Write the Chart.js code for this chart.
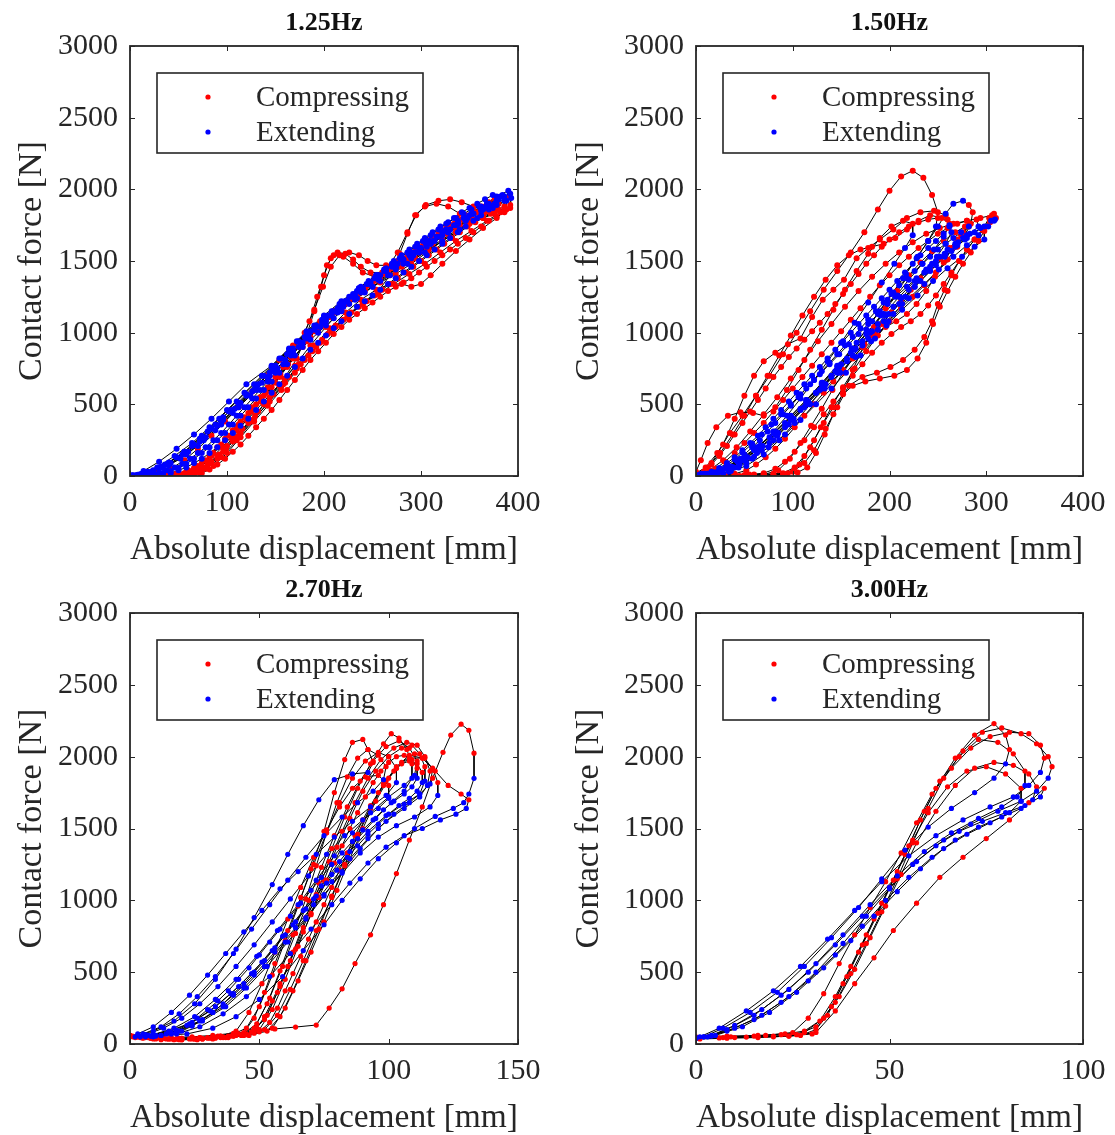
<!DOCTYPE html>
<html>
<head>
<meta charset="utf-8">
<title>Contact force vs absolute displacement</title>
<script src="https://cdn.jsdelivr.net/npm/chart.js@4.4.1/dist/chart.umd.min.js"></script>
<style>
  body { margin: 0; background: #fff; }
  #grid { position: relative; width: 1115px; height: 1135px; }
  .cell { position: absolute; }
</style>
</head>
<body>
<div id="grid">
  <div class="cell" style="left:0;top:0"><canvas id="c0" width="557" height="567"></canvas></div>
  <div class="cell" style="left:557px;top:0"><canvas id="c1" width="558" height="567"></canvas></div>
  <div class="cell" style="left:0;top:567px"><canvas id="c2" width="557" height="568"></canvas></div>
  <div class="cell" style="left:557px;top:567px"><canvas id="c3" width="558" height="568"></canvas></div>
</div>
<script>
// panel settings
const freqLabels = ["1.25Hz", "1.50Hz", "2.70Hz", "3.00Hz"];
const xMaxes = [400, 400, 150, 100];
const xSteps = [100, 100, 50, 50];
const yMax = 3000, yStep = 500;
const seriesNames = ["Compressing", "Extending"];

// ---- 1.25Hz : [displacement mm, force N], one array per cycle ----
const compress125 = [
  [[0,0],[15,0],[30,5],[45,10],[60,25],[75,60],[90,140],[105,260],[120,390],[135,520],[150,650],[163,780],[175,920],[185,1080],[193,1250],[200,1400],[207,1520],[214,1560],[222,1550],[230,1510],[238,1460],[248,1420],[260,1420],[272,1450],[285,1500],[298,1560],[312,1620],[326,1690],[340,1750],[352,1800]],
  [[2,0],[18,0],[34,5],[50,15],[65,40],[80,100],[95,200],[110,320],[125,450],[140,580],[155,710],[168,850],[180,1000],[190,1160],[199,1320],[207,1460],[216,1540],[226,1560],[236,1540],[245,1500],[254,1470],[264,1470],[276,1500],[290,1550],[305,1610],[320,1670],[336,1730],[352,1790],[366,1840],[378,1880]],
  [[0,0],[20,0],[40,5],[58,15],[74,45],[90,120],[106,240],[122,370],[138,500],[154,630],[170,770],[186,910],[202,1040],[218,1160],[234,1260],[250,1350],[264,1440],[276,1560],[286,1700],[295,1820],[305,1890],[318,1920],[330,1930],[342,1910],[354,1880],[366,1880],[378,1900],[388,1940]],
  [[5,0],[25,0],[45,5],[62,15],[78,50],[94,130],[110,250],[126,380],[142,510],[158,640],[174,780],[190,910],[206,1030],[222,1140],[238,1230],[254,1300],[268,1340],[280,1340],[290,1320],[300,1340],[310,1400],[322,1480],[336,1570],[350,1650],[364,1730],[378,1800],[388,1860]],
  [[0,0],[20,0],[40,0],[58,5],[72,20],[86,70],[100,160],[114,270],[128,380],[142,490],[156,600],[170,720],[184,840],[198,950],[212,1050],[226,1130],[240,1200],[256,1270],[272,1340],[288,1410],[304,1480],[320,1560],[336,1640],[352,1710],[368,1780],[382,1840],[392,1890]],
  [[3,0],[20,0],[37,5],[54,10],[69,30],[84,90],[99,190],[114,300],[129,420],[144,550],[159,680],[172,820],[182,980],[190,1150],[197,1320],[203,1470],[210,1540],[220,1530],[230,1480],[240,1420],[252,1390],[266,1410],[280,1460],[294,1520],[308,1580],[322,1640],[336,1700],[350,1760],[364,1810],[376,1850]],
  [[0,0],[16,0],[32,5],[48,10],[64,25],[80,75],[96,170],[112,280],[128,400],[144,520],[160,650],[176,780],[192,900],[208,1010],[224,1110],[240,1200],[256,1290],[268,1400],[278,1550],[286,1690],[294,1820],[304,1880],[316,1900],[328,1880],[340,1830],[352,1800],[364,1800],[376,1830],[386,1870]],
  [[0,0],[14,5],[28,20],[42,50],[56,110],[70,190],[84,280],[98,380],[112,480],[126,590],[140,700],[154,810],[168,910],[182,1000],[196,1080],[210,1150],[226,1230],[242,1300],[258,1370],[274,1440],[290,1510],[306,1580],[322,1650],[338,1720],[354,1790],[368,1850],[380,1900]],
  [[4,0],[22,0],[40,5],[56,20],[70,60],[84,140],[98,250],[112,360],[126,470],[140,580],[154,700],[168,820],[182,940],[196,1050],[210,1140],[226,1220],[242,1290],[258,1350],[274,1410],[290,1480],[306,1560],[322,1640],[336,1700]],
  [[0,0],[10,0],[20,0],[30,0],[40,5],[50,10],[60,20],[68,35],[76,60],[84,100],[92,150],[100,210],[108,270],[116,330],[124,390],[132,450],[140,510],[148,570],[156,630],[164,690],[172,750],[180,810],[188,870],[196,930],[204,990],[212,1040],[220,1090],[228,1140],[236,1180],[244,1220],[252,1260],[260,1300],[268,1340],[276,1380],[284,1420],[292,1460],[300,1500],[308,1540],[316,1580],[324,1620],[332,1660],[340,1700],[348,1740],[356,1770],[364,1800],[372,1830],[380,1860],[386,1880]],
  [[0,0],[12,0],[24,0],[36,5],[48,15],[58,30],[66,55],[74,90],[82,140],[90,200],[98,260],[106,320],[114,380],[122,440],[130,500],[138,560],[146,620],[154,690],[162,760],[170,830],[178,900],[186,970],[194,1030],[202,1090],[210,1140],[218,1190],[226,1230],[234,1270],[242,1310],[250,1350],[258,1390],[266,1430],[274,1470],[282,1510],[290,1550],[298,1590],[306,1630],[314,1670],[322,1710],[330,1750],[338,1790],[346,1820],[354,1850],[362,1880],[370,1910],[376,1930]],
  [[5,0],[18,0],[31,0],[44,0],[56,5],[66,10],[74,20],[82,45],[90,80],[98,120],[106,170],[114,220],[122,280],[130,340],[138,400],[146,460],[154,530],[162,600],[170,670],[178,740],[186,810],[194,870],[202,930],[210,990],[218,1040],[226,1090],[234,1130],[242,1170],[250,1210],[258,1250],[266,1290],[274,1320],[282,1350],[290,1380],[298,1420],[306,1460],[314,1500],[322,1540],[330,1580],[338,1620],[346,1660],[354,1700],[362,1740],[370,1780],[378,1810],[386,1840],[392,1870]],
  [[2,0],[14,0],[26,5],[38,10],[50,20],[60,40],[70,70],[78,110],[86,160],[94,220],[102,280],[110,340],[118,410],[126,480],[134,550],[142,620],[150,690],[158,760],[166,830],[174,900],[182,960],[190,1010],[198,1060],[206,1110],[214,1160],[222,1200],[230,1240],[238,1280],[246,1330],[254,1370],[262,1410],[270,1450],[278,1490],[286,1530],[294,1570],[302,1610],[310,1650],[318,1690],[326,1730],[334,1760],[342,1790],[350,1820],[358,1840],[366,1860]]
];
const extend125 = [
  [[350,1820],[338,1780],[322,1700],[305,1620],[288,1540],[270,1460],[252,1380],[234,1290],[216,1200],[198,1090],[180,970],[162,850],[144,720],[126,590],[108,470],[90,350],[72,240],[54,150],[36,80],[18,30],[3,5]],
  [[378,1920],[365,1870],[348,1800],[330,1720],[312,1640],[294,1560],[276,1480],[258,1400],[240,1310],[222,1220],[204,1120],[186,1010],[168,890],[150,770],[132,640],[114,510],[96,390],[78,270],[60,170],[42,90],[24,35],[8,5]],
  [[390,1990],[378,1950],[362,1880],[344,1800],[326,1720],[308,1640],[290,1560],[272,1480],[254,1400],[236,1310],[218,1220],[200,1120],[182,1010],[164,890],[146,770],[120,640],[102,520],[84,400],[66,290],[48,190],[30,100],[14,35],[2,5]],
  [[388,1920],[374,1870],[358,1800],[340,1720],[322,1640],[304,1560],[286,1480],[268,1400],[250,1320],[232,1230],[214,1140],[196,1040],[178,930],[160,810],[142,690],[124,560],[106,440],[88,320],[70,210],[52,120],[34,55],[16,15]],
  [[392,1970],[380,1930],[364,1860],[346,1780],[328,1700],[310,1620],[292,1540],[274,1460],[256,1380],[238,1290],[220,1200],[202,1100],[184,990],[166,870],[148,750],[130,620],[112,490],[94,370],[76,260],[58,160],[40,80],[22,30],[6,5]],
  [[376,1900],[362,1850],[346,1780],[328,1700],[310,1620],[292,1540],[274,1460],[256,1370],[238,1280],[220,1180],[202,1080],[184,970],[166,850],[148,730],[130,600],[112,480],[94,360],[76,250],[58,150],[40,75],[22,25],[6,0]],
  [[384,1960],[370,1900],[354,1830],[336,1750],[318,1670],[300,1590],[282,1510],[264,1430],[246,1340],[228,1250],[210,1150],[192,1050],[174,940],[156,820],[138,700],[120,570],[102,450],[84,330],[66,220],[48,130],[30,60],[12,15]],
  [[382,1950],[368,1900],[352,1830],[334,1750],[316,1670],[298,1590],[280,1510],[262,1430],[244,1340],[226,1250],[208,1150],[190,1050],[172,940],[154,820],[136,700],[118,580],[100,460],[82,340],[64,230],[46,140],[28,60],[10,10]],
  [[338,1760],[324,1710],[308,1640],[290,1560],[272,1480],[254,1400],[236,1310],[218,1210],[200,1110],[182,1000],[164,880],[146,760],[128,640],[110,520],[92,400],[74,280],[56,170],[38,80],[20,25],[4,0]],
  [[386,1950],[378,1920],[370,1890],[362,1860],[354,1830],[346,1800],[338,1760],[330,1720],[322,1680],[314,1640],[306,1600],[298,1560],[290,1520],[282,1480],[274,1440],[266,1400],[258,1360],[250,1320],[242,1280],[234,1240],[226,1200],[218,1150],[210,1100],[202,1050],[194,1000],[186,950],[178,900],[170,840],[162,780],[154,720],[146,660],[138,600],[130,540],[122,480],[114,420],[106,360],[98,300],[90,250],[82,200],[74,160],[66,120],[58,85],[50,55],[42,35],[34,20],[26,10],[18,5],[10,0],[2,0]],
  [[374,1960],[366,1930],[358,1900],[350,1870],[342,1840],[334,1800],[326,1760],[318,1720],[310,1680],[302,1640],[294,1600],[286,1560],[278,1520],[270,1480],[262,1440],[254,1400],[246,1360],[238,1320],[230,1270],[222,1220],[214,1170],[206,1120],[198,1070],[190,1020],[182,960],[174,900],[166,840],[158,780],[150,720],[142,660],[134,600],[126,540],[118,480],[110,420],[102,360],[94,300],[86,250],[78,200],[70,160],[62,120],[54,85],[46,60],[38,40],[30,25],[22,12],[14,5],[6,0]],
  [[393,1940],[386,1920],[378,1890],[370,1860],[362,1820],[354,1780],[346,1740],[338,1700],[330,1660],[322,1620],[314,1580],[306,1540],[298,1500],[290,1460],[282,1420],[274,1380],[266,1340],[258,1300],[250,1260],[242,1220],[234,1180],[226,1130],[218,1080],[210,1030],[202,980],[194,930],[186,880],[178,820],[170,760],[162,700],[154,640],[146,580],[138,520],[130,460],[122,400],[114,350],[106,300],[98,250],[90,200],[82,160],[74,120],[66,90],[58,60],[50,40],[42,20],[34,10],[26,5],[18,0],[10,0]],
  [[368,1900],[360,1880],[352,1860],[344,1830],[336,1800],[328,1770],[320,1740],[312,1700],[304,1660],[296,1620],[288,1580],[280,1540],[272,1500],[264,1450],[256,1400],[248,1350],[240,1300],[232,1260],[224,1220],[216,1180],[208,1130],[200,1080],[192,1040],[184,990],[176,930],[168,870],[160,810],[152,750],[144,700],[136,650],[128,600],[120,560],[112,510],[104,460],[96,410],[88,360],[80,310],[72,260],[64,210],[56,170],[48,130],[40,95],[32,65],[24,40],[16,20],[8,8],[0,0]]
];

// ---- 1.50Hz ----
const compress150 = [
  [[0,20],[10,60],[22,160],[35,300],[48,420],[62,560],[76,700],[90,850],[104,1000],[118,1150],[132,1300],[146,1430],[160,1560],[174,1700],[188,1860],[200,1990],[212,2090],[224,2130],[235,2080],[244,1960],[250,1840]],
  [[0,30],[5,110],[12,230],[21,340],[33,420],[46,445],[59,440],[70,420],[82,480],[94,600],[106,740],[118,880],[130,1020],[142,1160],[154,1300],[166,1430],[178,1550],[190,1660],[202,1740],[214,1780],[224,1760]],
  [[20,0],[40,5],[60,10],[80,15],[100,30],[112,90],[122,180],[134,330],[146,480],[158,630],[172,690],[187,720],[201,760],[214,810],[226,880],[236,970],[244,1080],[250,1200],[257,1300],[264,1400],[272,1500],[280,1580],[288,1650],[296,1720],[303,1800],[308,1830]],
  [[5,10],[16,90],[28,220],[40,400],[50,560],[60,700],[70,800],[82,860],[95,920],[108,960],[120,1110],[131,1230],[142,1300],[153,1370],[166,1520],[178,1590],[190,1650],[204,1720],[218,1800],[232,1840],[246,1850],[258,1820]],
  [[30,0],[50,5],[70,10],[85,40],[97,120],[108,230],[119,350],[130,470],[141,600],[152,720],[163,830],[174,920],[185,990],[196,1040],[207,1080],[218,1130],[228,1200],[238,1290],[247,1390],[256,1490],[265,1590],[274,1680],[282,1740],[290,1790]],
  [[10,0],[30,0],[50,5],[70,5],[90,10],[105,25],[115,60],[124,160],[133,290],[142,430],[152,580],[162,740],[173,900],[184,1040],[196,1170],[208,1290],[220,1400],[232,1490],[244,1570],[256,1640],[268,1700],[278,1740]],
  [[0,10],[12,60],[25,160],[38,290],[50,420],[62,560],[74,700],[86,840],[98,980],[110,1120],[122,1250],[134,1370],[146,1470],[158,1540],[170,1580],[182,1600],[194,1620],[206,1660],[218,1720],[230,1780],[242,1820],[254,1800],[262,1760]],
  [[40,0],[60,0],[80,5],[95,20],[107,80],[118,200],[129,340],[140,480],[152,620],[164,750],[176,870],[188,980],[200,1080],[212,1170],[224,1250],[236,1330],[248,1420],[260,1510],[270,1600],[278,1680],[284,1760],[286,1840],[282,1890]],
  [[0,15],[14,40],[28,110],[42,200],[56,310],[70,430],[84,550],[98,680],[112,810],[126,940],[140,1060],[154,1180],[168,1290],[182,1390],[196,1480],[210,1560],[224,1630],[238,1690],[252,1730],[266,1760],[280,1780],[294,1800],[306,1820]],
  [[20,0],[45,0],[70,5],[90,20],[102,60],[112,140],[122,250],[132,370],[142,480],[152,570],[162,630],[175,660],[190,680],[205,700],[218,740],[229,820],[238,930],[245,1060],[252,1180],[260,1290],[268,1390],[276,1480],[284,1560],[292,1640],[298,1710]],
  [[0,5],[10,20],[20,50],[30,100],[40,160],[50,230],[60,300],[70,370],[80,450],[90,530],[100,610],[110,690],[120,770],[130,850],[140,930],[150,1010],[160,1090],[170,1170],[180,1250],[190,1330],[200,1400],[210,1470],[220,1530],[230,1590],[240,1640],[250,1690],[260,1730],[270,1760],[280,1780]],
  [[10,0],[25,0],[40,5],[55,10],[70,20],[82,50],[92,100],[102,170],[112,250],[122,340],[132,430],[142,520],[152,610],[162,700],[172,780],[182,860],[192,930],[202,990],[212,1040],[222,1080],[232,1130],[240,1190],[248,1260],[256,1340],[264,1420],[272,1500],[280,1580],[288,1650],[296,1720],[304,1770],[310,1800]],
  [[0,0],[8,30],[16,80],[24,140],[32,210],[40,290],[48,370],[56,450],[64,530],[72,610],[80,690],[88,760],[96,830],[104,890],[112,950],[120,1010],[128,1070],[136,1130],[144,1200],[152,1270],[160,1340],[168,1410],[176,1480],[184,1540],[192,1600],[200,1650],[210,1700],[220,1740],[230,1770],[240,1790],[250,1800],[260,1790]],
  [[15,0],[28,5],[40,15],[52,40],[62,80],[72,130],[82,190],[92,260],[102,340],[112,420],[122,500],[132,580],[142,660],[152,740],[162,820],[172,900],[182,980],[192,1060],[202,1140],[212,1220],[222,1300],[232,1380],[242,1450],[252,1520],[262,1590],[270,1650],[276,1700]]
];
const extend150 = [
  [[248,1740],[240,1640],[228,1520],[214,1380],[198,1230],[182,1080],[166,930],[150,780],[134,640],[118,500],[102,370],[86,250],[70,150],[52,70],[34,30],[16,15]],
  [[224,1680],[216,1590],[205,1480],[192,1350],[178,1210],[164,1070],[150,930],[136,800],[122,670],[108,540],[94,420],[80,310],[66,210],[51,120],[36,60],[20,25],[6,15]],
  [[305,1780],[294,1730],[280,1660],[264,1570],[248,1470],[232,1360],[216,1250],[199,1130],[182,1010],[165,890],[148,770],[131,650],[114,530],[97,410],[80,300],[63,200],[46,120],[30,55],[14,15]],
  [[262,1750],[256,1670],[246,1580],[234,1480],[220,1370],[206,1250],[191,1120],[176,990],[160,860],[144,730],[128,600],[112,480],[96,360],[80,250],[63,160],[45,80],[27,30],[10,10]],
  [[292,1740],[283,1690],[271,1630],[257,1550],[242,1460],[226,1360],[210,1250],[194,1130],[178,1010],[162,890],[146,770],[130,650],[114,530],[98,420],[82,310],[66,210],[50,130],[34,65],[18,25],[4,10]],
  [[280,1680],[270,1610],[257,1530],[242,1430],[226,1320],[210,1200],[194,1080],[178,960],[162,840],[146,720],[130,610],[114,500],[98,390],[82,290],[66,200],[50,120],[34,55],[16,15]],
  [[264,1700],[258,1620],[249,1530],[238,1430],[226,1320],[213,1200],[199,1080],[185,960],[170,840],[155,720],[140,610],[124,500],[108,390],[92,290],[75,200],[58,120],[40,60],[22,20]],
  [[276,1920],[266,1900],[258,1830],[250,1740],[240,1640],[229,1530],[217,1410],[204,1280],[190,1150],[176,1020],[161,890],[146,760],[130,640],[114,520],[98,400],[82,290],[65,190],[48,110],[30,50],[12,15]],
  [[309,1790],[302,1740],[292,1680],[280,1610],[266,1530],[251,1440],[236,1340],[220,1240],[204,1130],[188,1020],[172,910],[156,800],[140,690],[124,580],[108,470],[92,370],[76,270],[60,180],[43,100],[26,45],[9,15]],
  [[298,1650],[288,1600],[275,1530],[260,1450],[245,1360],[229,1260],[213,1160],[197,1050],[181,940],[165,830],[149,720],[133,610],[117,500],[101,400],[85,300],[69,210],[53,130],[37,65],[21,25],[6,10]],
  [[282,1740],[274,1700],[266,1660],[258,1620],[250,1580],[242,1530],[234,1480],[226,1430],[218,1380],[210,1330],[202,1270],[194,1210],[186,1150],[178,1090],[170,1030],[162,970],[154,910],[146,850],[138,790],[130,730],[122,670],[114,610],[106,550],[98,490],[90,430],[82,370],[74,310],[66,250],[58,200],[50,150],[42,110],[34,70],[26,40],[18,20],[10,10],[2,5]],
  [[308,1780],[298,1740],[288,1700],[278,1650],[268,1600],[258,1550],[248,1500],[238,1440],[228,1380],[218,1320],[208,1260],[198,1200],[188,1130],[178,1060],[168,990],[158,920],[148,850],[138,780],[128,710],[118,640],[108,570],[98,500],[88,430],[78,360],[68,290],[58,225],[48,165],[40,115],[32,75],[24,40],[16,20],[8,8]],
  [[262,1740],[256,1690],[248,1640],[240,1590],[232,1540],[224,1480],[216,1420],[208,1360],[200,1300],[192,1240],[184,1180],[176,1120],[168,1060],[160,1000],[152,940],[144,880],[136,820],[128,760],[120,700],[112,640],[104,580],[96,520],[88,460],[80,400],[72,340],[64,280],[56,230],[48,180],[40,130],[32,90],[24,55],[16,30],[8,10]],
  [[276,1660],[268,1620],[260,1580],[252,1530],[244,1480],[236,1420],[228,1360],[220,1300],[212,1240],[204,1180],[196,1120],[188,1060],[180,1000],[172,940],[164,880],[156,820],[148,760],[140,700],[132,640],[124,580],[116,520],[108,460],[100,400],[92,340],[84,280],[76,230],[68,180],[60,135],[52,95],[44,60],[36,35],[28,15],[20,5]]
];

// ---- 2.70Hz ----
const compress270 = [
  [[0,60],[6,45],[13,40],[20,40],[27,45],[34,55],[40,70],[45,110],[50,260],[55,480],[60,720],[65,960],[70,1220],[75,1480],[79,1750],[83,1980],[86,2100],[90,2120],[92,2050],[94,1960]],
  [[2,50],[9,35],[17,30],[25,35],[33,45],[41,60],[48,90],[53,200],[58,400],[63,640],[68,880],[73,1120],[78,1360],[83,1580],[88,1780],[93,1950],[98,2090],[101,2160],[104,2130],[107,2050],[109,1950]],
  [[0,60],[8,50],[16,45],[24,50],[32,60],[40,75],[48,90],[56,105],[64,118],[72,132],[77,250],[82,384],[87,560],[93,760],[98,970],[103,1186],[108,1420],[113,1650],[117,1850],[121,2030],[124,2150],[128,2226],[131,2184],[133,2024]],
  [[5,40],[12,30],[20,30],[28,35],[36,45],[43,60],[50,100],[55,240],[60,450],[65,680],[70,910],[75,1140],[80,1370],[85,1570],[90,1760],[95,1900],[100,2000],[105,2060],[109,2080],[112,2020],[114,1930]],
  [[3,50],[10,40],[18,35],[26,35],[33,40],[39,55],[44,80],[48,180],[52,360],[56,560],[61,790],[66,1020],[71,1250],[76,1470],[81,1680],[86,1850],[91,1970],[96,2030],[100,2000],[103,1920]],
  [[1,55],[9,40],[18,35],[27,40],[36,50],[45,65],[52,100],[57,200],[62,380],[67,580],[72,790],[78,1020],[83,1240],[88,1450],[93,1640],[98,1800],[103,1920],[108,1990],[113,1990],[117,1920],[119,1820]],
  [[2,45],[10,35],[19,30],[28,35],[37,45],[46,60],[53,90],[58,190],[63,370],[68,580],[73,800],[78,1030],[83,1250],[88,1460],[93,1650],[98,1810],[103,1930],[108,2010],[113,1990],[118,1900],[123,1800],[128,1740],[131,1700]],
  [[0,55],[7,45],[15,35],[23,35],[31,40],[38,55],[44,75],[49,140],[54,320],[59,540],[64,770],[69,1000],[74,1230],[79,1450],[84,1650],[89,1830],[94,1970],[99,2070],[104,2110],[108,2060],[111,1970]],
  [[4,45],[12,35],[20,35],[28,40],[35,55],[41,90],[46,220],[51,420],[56,640],[61,870],[66,1090],[71,1300],[76,1490],[81,1650],[86,1780],[91,1860],[96,1870],[100,1800]],
  [[1,50],[8,40],[16,35],[24,35],[32,45],[40,60],[47,85],[52,170],[57,360],[62,580],[67,810],[72,1040],[77,1270],[82,1480],[87,1680],[92,1850],[97,1980],[102,2060],[107,2100],[111,2080],[114,2000],[116,1900]],
  [[3,55],[11,45],[19,40],[27,45],[35,55],[42,70],[48,110],[53,280],[58,510],[63,760],[68,1010],[72,1240],[76,1470],[80,1680],[84,1860],[88,1990],[92,2050],[96,2010],[99,1930]],
  [[0,60],[10,45],[20,40],[30,45],[40,55],[48,75],[55,110],[60,250],[65,440],[70,640],[75,850],[80,1070],[85,1290],[90,1500],[95,1690],[100,1850],[105,1960],[110,2020],[114,1990],[117,1910]],
  [[0,55],[5,45],[10,40],[15,35],[20,35],[25,35],[30,40],[35,45],[40,55],[45,70],[49,110],[52,190],[55,300],[58,420],[61,540],[64,660],[67,780],[70,900],[73,1020],[76,1140],[79,1260],[82,1380],[85,1500],[88,1610],[91,1720],[94,1820],[97,1900],[100,1960],[103,2000],[106,2010],[109,1980],[111,1920]],
  [[3,50],[8,40],[14,35],[20,30],[26,30],[32,35],[38,45],[44,60],[50,85],[54,150],[57,250],[60,370],[63,490],[66,610],[69,730],[72,850],[75,970],[78,1090],[81,1210],[84,1330],[87,1450],[90,1560],[93,1660],[96,1750],[99,1830],[102,1900],[105,1950],[108,1970],[111,1950],[113,1890]]
];
const extend270 = [
  [[92,1890],[86,1880],[79,1840],[73,1700],[67,1520],[61,1320],[55,1110],[48,880],[41,660],[33,450],[25,280],[17,160],[9,90],[3,60]],
  [[109,1850],[106,1760],[101,1680],[95,1570],[88,1430],[81,1270],[74,1100],[67,930],[59,750],[51,570],[42,400],[33,260],[24,150],[15,90],[7,60]],
  [[133,1849],[131,1740],[129,1680],[125,1640],[118,1584],[110,1500],[103,1400],[96,1290],[89,1150],[82,1000],[75,830],[67,650],[59,470],[50,310],[41,190],[32,110],[22,70],[12,60]],
  [[114,1830],[112,1740],[108,1680],[102,1600],[96,1500],[89,1360],[82,1200],[75,1030],[68,870],[61,710],[53,540],[45,390],[37,260],[28,160],[19,90],[10,60]],
  [[103,1820],[99,1730],[93,1650],[86,1550],[79,1440],[72,1320],[65,1200],[58,1080],[51,930],[44,780],[37,630],[30,480],[23,340],[16,220],[9,120],[3,70]],
  [[119,1730],[116,1650],[110,1580],[103,1520],[96,1440],[89,1330],[82,1190],[75,1040],[68,880],[60,710],[52,540],[44,390],[36,260],[27,160],[18,90],[9,55]],
  [[130,1640],[126,1600],[120,1560],[113,1500],[106,1450],[99,1370],[92,1260],[85,1120],[78,970],[70,800],[62,630],[54,470],[45,330],[36,210],[27,120],[18,70],[9,50]],
  [[110,1870],[106,1800],[100,1720],[93,1610],[86,1470],[79,1310],[72,1140],[65,970],[57,790],[49,610],[41,450],[33,310],[25,190],[17,110],[9,65]],
  [[100,1710],[96,1640],[90,1560],[83,1450],[76,1320],[69,1170],[62,1010],[55,850],[48,690],[41,540],[34,400],[27,280],[20,180],[13,110],[6,65]],
  [[115,1800],[112,1720],[106,1640],[99,1550],[92,1430],[85,1290],[78,1130],[71,970],[64,810],[56,640],[48,480],[40,340],[32,220],[24,130],[16,80],[8,55]],
  [[98,1840],[94,1760],[88,1680],[82,1580],[75,1450],[68,1300],[61,1140],[54,970],[47,800],[40,630],[33,470],[26,330],[19,210],[12,120],[5,70]],
  [[116,1810],[112,1740],[106,1670],[99,1590],[92,1480],[85,1340],[78,1180],[71,1010],[63,830],[55,650],[47,490],[39,350],[31,230],[23,140],[15,85],[7,60]],
  [[111,1850],[109,1790],[106,1740],[102,1690],[98,1630],[94,1560],[90,1490],[86,1410],[82,1330],[78,1250],[74,1160],[70,1070],[66,980],[62,890],[58,800],[54,710],[50,620],[46,530],[42,450],[38,370],[34,300],[30,240],[26,180],[22,130],[18,95],[14,70],[10,55],[6,50],[2,50]],
  [[113,1820],[111,1760],[108,1710],[104,1660],[100,1600],[96,1530],[92,1460],[88,1380],[84,1300],[80,1210],[76,1120],[72,1030],[68,940],[64,850],[60,760],[56,670],[52,580],[48,500],[44,420],[40,350],[36,280],[32,220],[28,170],[24,125],[20,90],[16,70],[12,60],[8,55],[4,50]]
];

// ---- 3.00Hz ----
const compress300 = [
  [[0,40],[6,42],[13,48],[20,55],[26,65],[31,120],[36,290],[40,490],[44,700],[48,920],[52,1150],[56,1400],[60,1640],[64,1850],[69,2040],[74,2170],[79,2200],[84,2160],[88,2090],[91,2000],[92,1930]],
  [[1,35],[8,40],[16,45],[24,55],[30,70],[34,200],[38,420],[42,640],[46,870],[50,1090],[54,1320],[58,1560],[62,1780],[67,1990],[72,2150],[77,2230],[80,2150],[81,2050]],
  [[0,45],[9,50],[18,60],[25,80],[29,180],[33,350],[37,560],[41,760],[45,950],[49,1130],[53,1330],[57,1540],[61,1740],[66,1920],[71,2060],[76,2140],[81,2170],[86,2160],[89,2080],[90,1990]],
  [[0,40],[10,45],[20,50],[27,60],[31,100],[35,260],[39,470],[43,690],[47,910],[51,1140],[55,1380],[59,1620],[63,1830],[68,2000],[73,2120],[78,2100],[82,2020],[85,1900]],
  [[0,50],[8,55],[16,60],[23,70],[28,90],[33,180],[37,330],[41,520],[45,740],[49,960],[53,1180],[57,1400],[62,1620],[67,1800],[72,1920],[77,1960],[82,1940],[86,1880],[88,1790]],
  [[0,40],[7,45],[15,55],[22,65],[28,80],[32,160],[36,330],[40,540],[44,760],[48,980],[52,1200],[56,1420],[60,1610],[65,1790],[70,1900],[75,1930],[80,1880],[84,1780]],
  [[0,45],[8,45],[16,50],[24,55],[31,80],[36,230],[41,420],[46,600],[51,790],[57,980],[63,1160],[69,1300],[75,1430],[81,1560],[86,1680],[90,1780]]
];
const extend300 = [
  [[91,1850],[88,1760],[84,1690],[78,1620],[71,1530],[64,1420],[57,1270],[50,1090],[43,890],[36,690],[29,500],[22,340],[15,200],[8,100],[3,50],[0,40]],
  [[80,1950],[77,1850],[72,1750],[66,1640],[60,1510],[54,1350],[48,1150],[42,950],[35,740],[28,540],[21,360],[14,220],[7,110],[2,50]],
  [[89,1890],[86,1800],[82,1720],[76,1650],[69,1560],[62,1450],[55,1310],[48,1130],[41,930],[34,730],[27,540],[20,370],[13,230],[6,110],[1,50]],
  [[85,1800],[83,1720],[79,1650],[73,1570],[66,1470],[59,1340],[52,1170],[45,970],[38,760],[31,560],[24,380],[17,240],[10,130],[4,60]],
  [[87,1700],[84,1640],[79,1580],[73,1510],[67,1420],[61,1300],[55,1160],[49,1000],[43,820],[36,620],[29,440],[22,290],[15,170],[8,90],[2,50]],
  [[84,1690],[81,1610],[76,1540],[70,1460],[64,1360],[58,1220],[52,1060],[46,890],[40,720],[33,530],[26,360],[19,220],[12,120],[5,60],[0,40]],
  [[89,1720],[85,1660],[80,1610],[74,1550],[68,1480],[62,1380],[56,1250],[50,1080],[44,890],[38,700],[31,500],[24,330],[17,200],[10,110],[4,55],[0,45]]
];

const allCompress = [compress125, compress150, compress270, compress300];
const allExtend = [extend125, extend150, extend270, extend300];
const dotSizes = [3, 3, 2.6, 2.6];

const FONT = "'Liberation Serif', 'Times New Roman', serif";
const INK = "#262626";

// join cycles into the black path plus red / blue marker sets
function buildSets(comp, ext) {
  const path = [], red = [], blue = [];
  comp.forEach((cyc, k) => {
    cyc.forEach(p => { path.push({x: p[0], y: p[1]}); red.push({x: p[0], y: p[1]}); });
    ext[k].forEach(p => { path.push({x: p[0], y: p[1]}); blue.push({x: p[0], y: p[1]}); });
  });
  return {path, red, blue};
}

// box, inward ticks, title and legend like the matlab figure
const framePlugin = {
  id: "frame",
  afterDatasetsDraw(chart, args, opts) {
    const {ctx, chartArea: a, scales} = chart;
    const x = scales.x, y = scales.y;
    ctx.save();
    ctx.strokeStyle = INK;
    ctx.lineWidth = 1;
    x.ticks.forEach(t => {
      const px = Math.round(x.getPixelForValue(t.value)) + 0.5;
      ctx.beginPath();
      ctx.moveTo(px, a.bottom); ctx.lineTo(px, a.bottom - 5);
      ctx.moveTo(px, a.top); ctx.lineTo(px, a.top + 5);
      ctx.stroke();
    });
    y.ticks.forEach(t => {
      const py = Math.round(y.getPixelForValue(t.value)) + 0.5;
      ctx.beginPath();
      ctx.moveTo(a.left, py); ctx.lineTo(a.left + 5, py);
      ctx.moveTo(a.right, py); ctx.lineTo(a.right - 5, py);
      ctx.stroke();
    });
    ctx.lineWidth = 1.8;
    ctx.strokeRect(a.left, a.top, a.right - a.left, a.bottom - a.top);

    // legend
    const bx = a.left + opts.legendDx, by = a.top + 27, bw = 266, bh = 80;
    ctx.fillStyle = "#fff";
    ctx.fillRect(bx, by, bw, bh);
    ctx.lineWidth = 1.6;
    ctx.strokeRect(bx, by, bw, bh);
    const rows = [["#ff0000", by + 24], ["#0000ff", by + 59]];
    ctx.font = "29px " + FONT;
    ctx.textBaseline = "middle";
    ctx.textAlign = "left";
    rows.forEach((r, i) => {
      ctx.fillStyle = r[0];
      ctx.beginPath();
      ctx.arc(bx + 51, r[1], 2.6, 0, Math.PI * 2);
      ctx.fill();
      ctx.fillStyle = INK;
      ctx.fillText(seriesNames[i], bx + 99, r[1] + 1);
    });

    // title
    ctx.font = "bold 26px " + FONT;
    ctx.fillStyle = "#111";
    ctx.textAlign = "center";
    ctx.fillText(opts.title, (a.left + a.right) / 2, 23);
    ctx.restore();
  }
};

function makeChart(i) {
  const sets = buildSets(allCompress[i], allExtend[i]);
  const rightCol = i % 2 === 1;
  const leftW = rightCol ? 139 : 130;
  const padRight = rightCol ? 32 : 39;
  const dotR = dotSizes[i];
  new Chart(document.getElementById("c" + i), {
    type: "scatter",
    data: {
      datasets: [
        {label: "Extending", data: sets.blue, pointRadius: dotR, pointBackgroundColor: "#0000ff", pointBorderWidth: 0, showLine: false},
        {label: "Compressing", data: sets.red, pointRadius: dotR, pointBackgroundColor: "#ff0000", pointBorderWidth: 0, showLine: false},
        {label: "path", data: sets.path, showLine: true, borderColor: "#000", borderWidth: 1, pointRadius: 0, tension: 0}
      ]
    },
    options: {
      responsive: false,
      animation: false,
      events: [],
      layout: {padding: {top: 46, right: padRight, bottom: 0, left: 0}},
      plugins: {
        legend: {display: false},
        tooltip: {enabled: false},
        frame: {title: freqLabels[i], legendDx: 27}
      },
      scales: {
        x: {
          type: "linear", min: 0, max: xMaxes[i],
          ticks: {stepSize: xSteps[i], color: INK, font: {family: FONT, size: 30}, padding: 9, maxRotation: 0, callback: v => String(v)},
          grid: {display: false, drawTicks: false},
          border: {display: false},
          title: {display: true, text: "Absolute displacement [mm]", color: INK, font: {family: FONT, size: 34, lineHeight: 1}, padding: 0},
          afterFit(s) { s.height = 91; }
        },
        y: {
          type: "linear", min: 0, max: yMax,
          ticks: {stepSize: yStep, color: INK, font: {family: FONT, size: 30}, padding: 12, callback: v => String(v)},
          grid: {display: false, drawTicks: false},
          border: {display: false},
          title: {display: true, text: "Contact force [N]", color: INK, font: {family: FONT, size: 34, lineHeight: 1}, padding: {top: 15, bottom: 0}},
          afterFit(s) { s.width = leftW; }
        }
      }
    },
    plugins: [framePlugin]
  });
}

[0, 1, 2, 3].forEach(makeChart);
</script>
</body>
</html>
